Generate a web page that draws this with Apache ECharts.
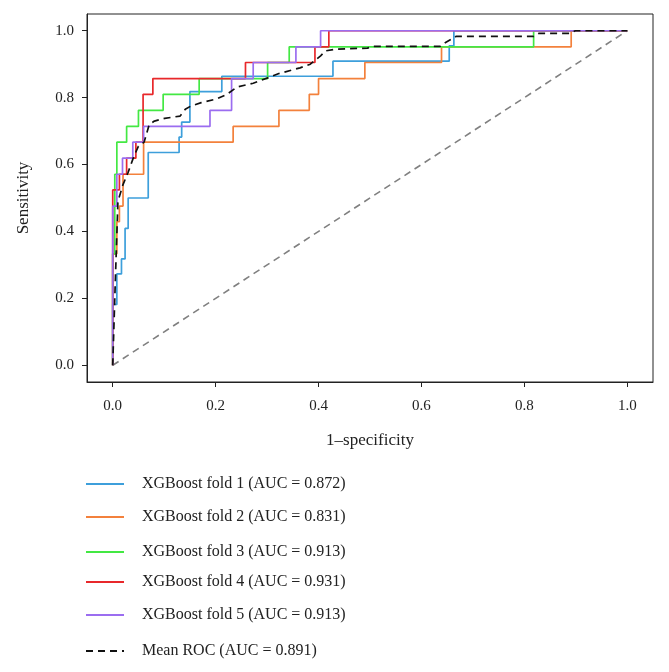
<!DOCTYPE html>
<html>
<head>
<meta charset="utf-8">
<script src="https://cdn.jsdelivr.net/npm/echarts@6/dist/echarts.min.js"></script>
<style>
html,body{margin:0;padding:0;background:#fff;}
#chart{width:669px;height:672px;}
</style>
</head>
<body>
<div id="chart"></div>
<script>
// ---- data ----
const tickValues = [0, 0.2, 0.4, 0.6, 0.8, 1.0];
const seriesNames = [
  'XGBoost fold 1 (AUC = 0.872)',
  'XGBoost fold 2 (AUC = 0.831)',
  'XGBoost fold 3 (AUC = 0.913)',
  'XGBoost fold 4 (AUC = 0.931)',
  'XGBoost fold 5 (AUC = 0.913)',
  'Mean ROC (AUC = 0.891)'
];
const fold1 = [[0,0],[0,0.182],[0.008,0.182],[0.008,0.273],[0.017,0.273],[0.017,0.318],[0.024,0.318],[0.024,0.409],[0.03,0.409],[0.03,0.5],[0.069,0.5],[0.069,0.636],[0.129,0.636],[0.129,0.682],[0.134,0.682],[0.134,0.727],[0.15,0.727],[0.15,0.818],[0.212,0.818],[0.212,0.864],[0.428,0.864],[0.428,0.909],[0.654,0.909],[0.654,0.955],[0.663,0.955],[0.663,1],[1,1]];
const fold2 = [[0,0],[0,0.333],[0.008,0.333],[0.008,0.429],[0.013,0.429],[0.013,0.476],[0.02,0.476],[0.02,0.571],[0.06,0.571],[0.06,0.667],[0.234,0.667],[0.234,0.714],[0.323,0.714],[0.323,0.762],[0.382,0.762],[0.382,0.81],[0.40,0.81],[0.40,0.857],[0.49,0.857],[0.49,0.905],[0.639,0.905],[0.639,0.952],[0.891,0.952],[0.891,1],[1,1]];
const fold3 = [[0,0],[0,0.333],[0.004,0.333],[0.004,0.571],[0.008,0.571],[0.008,0.667],[0.027,0.667],[0.027,0.714],[0.05,0.714],[0.05,0.762],[0.098,0.762],[0.098,0.81],[0.168,0.81],[0.168,0.857],[0.301,0.857],[0.301,0.905],[0.343,0.905],[0.343,0.952],[0.818,0.952],[0.818,1],[1,1]];
const fold4 = [[0,0],[0,0.524],[0.013,0.524],[0.013,0.571],[0.027,0.571],[0.027,0.619],[0.045,0.619],[0.045,0.667],[0.059,0.667],[0.059,0.81],[0.078,0.81],[0.078,0.857],[0.258,0.857],[0.258,0.905],[0.393,0.905],[0.393,0.952],[0.42,0.952],[0.42,1],[1,1]];
const fold5 = [[0,0],[0,0.476],[0.008,0.476],[0.008,0.571],[0.019,0.571],[0.019,0.619],[0.039,0.619],[0.039,0.667],[0.06,0.667],[0.06,0.714],[0.189,0.714],[0.189,0.762],[0.231,0.762],[0.231,0.857],[0.273,0.857],[0.273,0.905],[0.356,0.905],[0.356,0.952],[0.404,0.952],[0.404,1],[1,1]];
const meanROC = [[0,0],[0.005,0.25],[0.0101,0.49],[0.02,0.54],[0.03,0.577],[0.04,0.62],[0.05,0.655],[0.061,0.667],[0.071,0.72],[0.081,0.73],[0.101,0.738],[0.131,0.745],[0.141,0.765],[0.152,0.775],[0.172,0.785],[0.202,0.796],[0.222,0.81],[0.242,0.832],[0.273,0.843],[0.303,0.86],[0.323,0.872],[0.364,0.889],[0.384,0.9],[0.404,0.925],[0.414,0.94],[0.434,0.945],[0.495,0.948],[0.505,0.953],[0.636,0.953],[0.646,0.964],[0.667,0.983],[0.818,0.983],[0.828,0.992],[0.889,0.992],[0.899,1.0],[1,1]];
const chanceLine = [[0,0],[1,1]];
const legendTops = [484, 517, 552, 582, 615, 651];

// ---- styling ----
const colors = ['#3d9fdb', '#f3813c', '#43e843', '#e8282b', '#9b6df0', '#111111'];
const FONT = '"Liberation Serif", "DejaVu Serif", serif';
const foldData = [fold1, fold2, fold3, fold4, fold5, meanROC];

const series = [{
  name: 'chance', type: 'line', data: chanceLine, symbol: 'none', silent: true,
  lineStyle: {color: '#808080', width: 1.6, type: [7, 5]}, z: 1
}];
foldData.forEach((d, i) => {
  series.push({
    name: seriesNames[i], type: 'line', data: d, symbol: 'none', showSymbol: false,
    lineStyle: {color: colors[i], width: 1.7, type: i === 5 ? [7, 5] : 'solid'},
    itemStyle: {color: colors[i]},
    z: i === 5 ? 5 : 2
  });
});

const legends = seriesNames.map((n, i) => ({
  data: [n], left: 80, top: legendTops[i] - 13, orient: 'vertical',
  itemWidth: 38, itemHeight: 16,
  itemStyle: {color: 'rgba(0,0,0,0)', borderWidth: 0, opacity: 0},
  textStyle: {fontFamily: FONT, fontSize: 16, color: '#222', padding: [0, 0, 0, 13]},
  selectedMode: false
}));

const axisCommon = {
  type: 'value', min: -0.05, max: 1.05, nameLocation: 'middle',
  nameTextStyle: {fontFamily: FONT, fontSize: 17, color: '#222'},
  axisLine: {show: true, onZero: false, lineStyle: {color: '#222', width: 1}},
  axisTick: {show: true, inside: false, customValues: tickValues, length: 5, lineStyle: {color: '#222'}},
  splitLine: {show: false}
};

const chart = echarts.init(document.getElementById('chart'), null, {renderer: 'canvas'});
chart.setOption({
  animation: false,
  backgroundColor: '#fff',
  color: colors,
  grid: {left: 87, top: 14, width: 566, height: 368, show: true, borderColor: '#222', borderWidth: 1},
  legend: legends,
  xAxis: Object.assign({}, axisCommon, {
    name: '1\u2013specificity', nameGap: 50,
    axisLabel: {customValues: tickValues, formatter: v => v.toFixed(1), fontFamily: FONT, fontSize: 15, color: '#222', margin: 17}
  }),
  yAxis: Object.assign({}, axisCommon, {
    name: 'Sensitivity', nameGap: 55,
    axisLabel: {customValues: tickValues, formatter: v => v.toFixed(1), fontFamily: FONT, fontSize: 15, color: '#222', margin: 13}
  }),
  series: series
});
</script>
</body>
</html>
